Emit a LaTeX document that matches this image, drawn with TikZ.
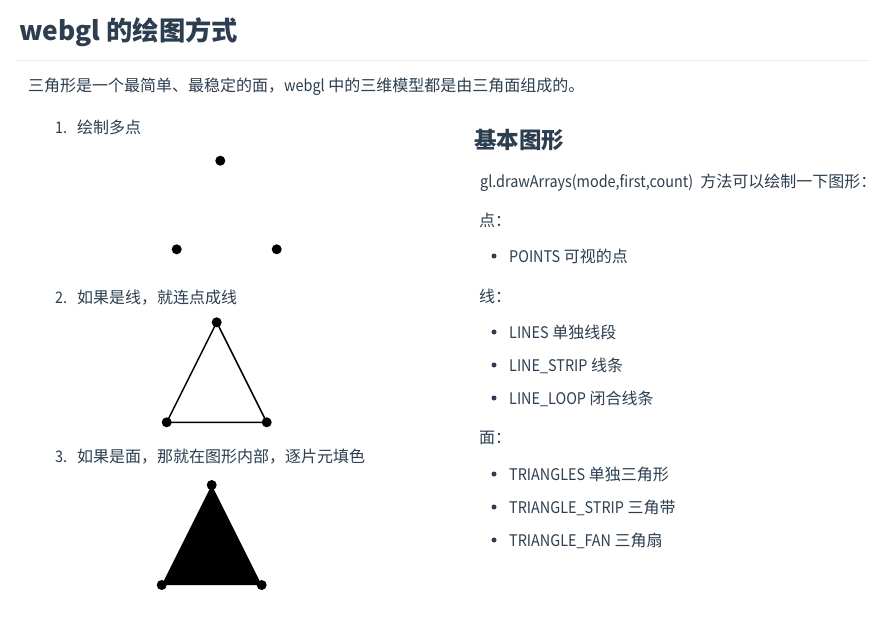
\documentclass[tikz,border=0pt]{standalone}
\usepackage{fontspec}
\setmainfont{Noto Sans CJK SC}
\newfontfamily\latf[FakeStretch=0.9]{Noto Sans CJK SC}
\definecolor{txt}{HTML}{2C3E50}
\definecolor{rulec}{HTML}{EAECEF}
\tikzset{
  x=1pt, y=-1pt,
  lbl/.style={anchor=base west, inner sep=0pt, text=txt, font=\fontsize{16}{19}\selectfont},
  title/.style={anchor=base west, inner sep=0pt, text=txt, font=\fontsize{26.3}{30}\selectfont\bfseries},
  head/.style={anchor=base west, inner sep=0pt, text=txt, font=\fontsize{22.5}{26}\selectfont\bfseries},
  dot/.style={circle, fill=black, inner sep=0pt, minimum size=10pt},
  bul/.style={circle, fill=txt, inner sep=0pt, minimum size=5pt},
  edge/.style={draw=black, line width=1.5pt},
}
\begin{document}
\begin{tikzpicture}
\useasboundingbox (0,0) rectangle (885,624);
\fill[white] (0,0) rectangle (885,624);
% title and rule
\node[title] (title) at (19,40) {webgl 的绘图方式};
\coordinate (r1) at (17,60);
\coordinate (r2) at (868,60);
\draw[rulec, line width=1pt] (r1) -- (r2);
\node[lbl] (para) at (28,91) {三角形是一个最简单、最稳定的面，{\latf webgl} 中的三维模型都是由三角面组成的。};
% left list
\node[lbl] (n1) at (55,133) {\latf 1.};
\node[lbl] (t1) at (77,133) {绘制多点};
\node[dot] (p1a) at (220.3,160.7) {};
\node[dot] (p1b) at (176.7,249.3) {};
\node[dot] (p1c) at (276.7,249.3) {};
\node[lbl] (n2) at (55,303) {\latf 2.};
\node[lbl] (t2) at (77,303) {如果是线，就连点成线};
\node[dot] (p2a) at (216.7,322.3) {};
\node[dot] (p2b) at (166.7,422.3) {};
\node[dot] (p2c) at (266.7,422.3) {};
\draw[edge] (p2a.center) -- (p2b.center) -- (p2c.center) -- cycle;
\node[lbl] (n3) at (55,462) {\latf 3.};
\node[lbl] (t3) at (77,462) {如果是面，那就在图形内部，逐片元填色};
\node[dot] (p3a) at (211.7,485) {};
\node[dot] (p3b) at (161.7,585) {};
\node[dot] (p3c) at (261.7,585) {};
\fill[black] (p3a.center) -- (p3b.center) -- (p3c.center) -- cycle;
% right column
\node[head] (h2) at (474,148) {基本图形};
\node[lbl] (api) at (480,187) {{\latf gl.drawArrays(mode,first,count)}\ \ 方法可以绘制一下图形：};
\node[lbl] (sp) at (479,226) {点：};
\node[bul] (b1) at (494,256) {};
\node[lbl] (i1) at (509,262) {{\latf POINTS} 可视的点};
\node[lbl] (sl) at (479,302) {线：};
\node[bul] (b2) at (494,332) {};
\node[lbl] (i2) at (509,338) {{\latf LINES} 单独线段};
\node[bul] (b3) at (494,365) {};
\node[lbl] (i3) at (509,371) {{\latf LINE\_STRIP} 线条};
\node[bul] (b4) at (494,398) {};
\node[lbl] (i4) at (509,404) {{\latf LINE\_LOOP} 闭合线条};
\node[lbl] (sf) at (479,443) {面：};
\node[bul] (b5) at (494,474) {};
\node[lbl] (i5) at (509,480) {{\latf TRIANGLES} 单独三角形};
\node[bul] (b6) at (494,507) {};
\node[lbl] (i6) at (509,513) {{\latf TRIANGLE\_STRIP} 三角带};
\node[bul] (b7) at (494,540) {};
\node[lbl] (i7) at (509,546) {{\latf TRIANGLE\_FAN} 三角扇};
\end{tikzpicture}
\end{document}
